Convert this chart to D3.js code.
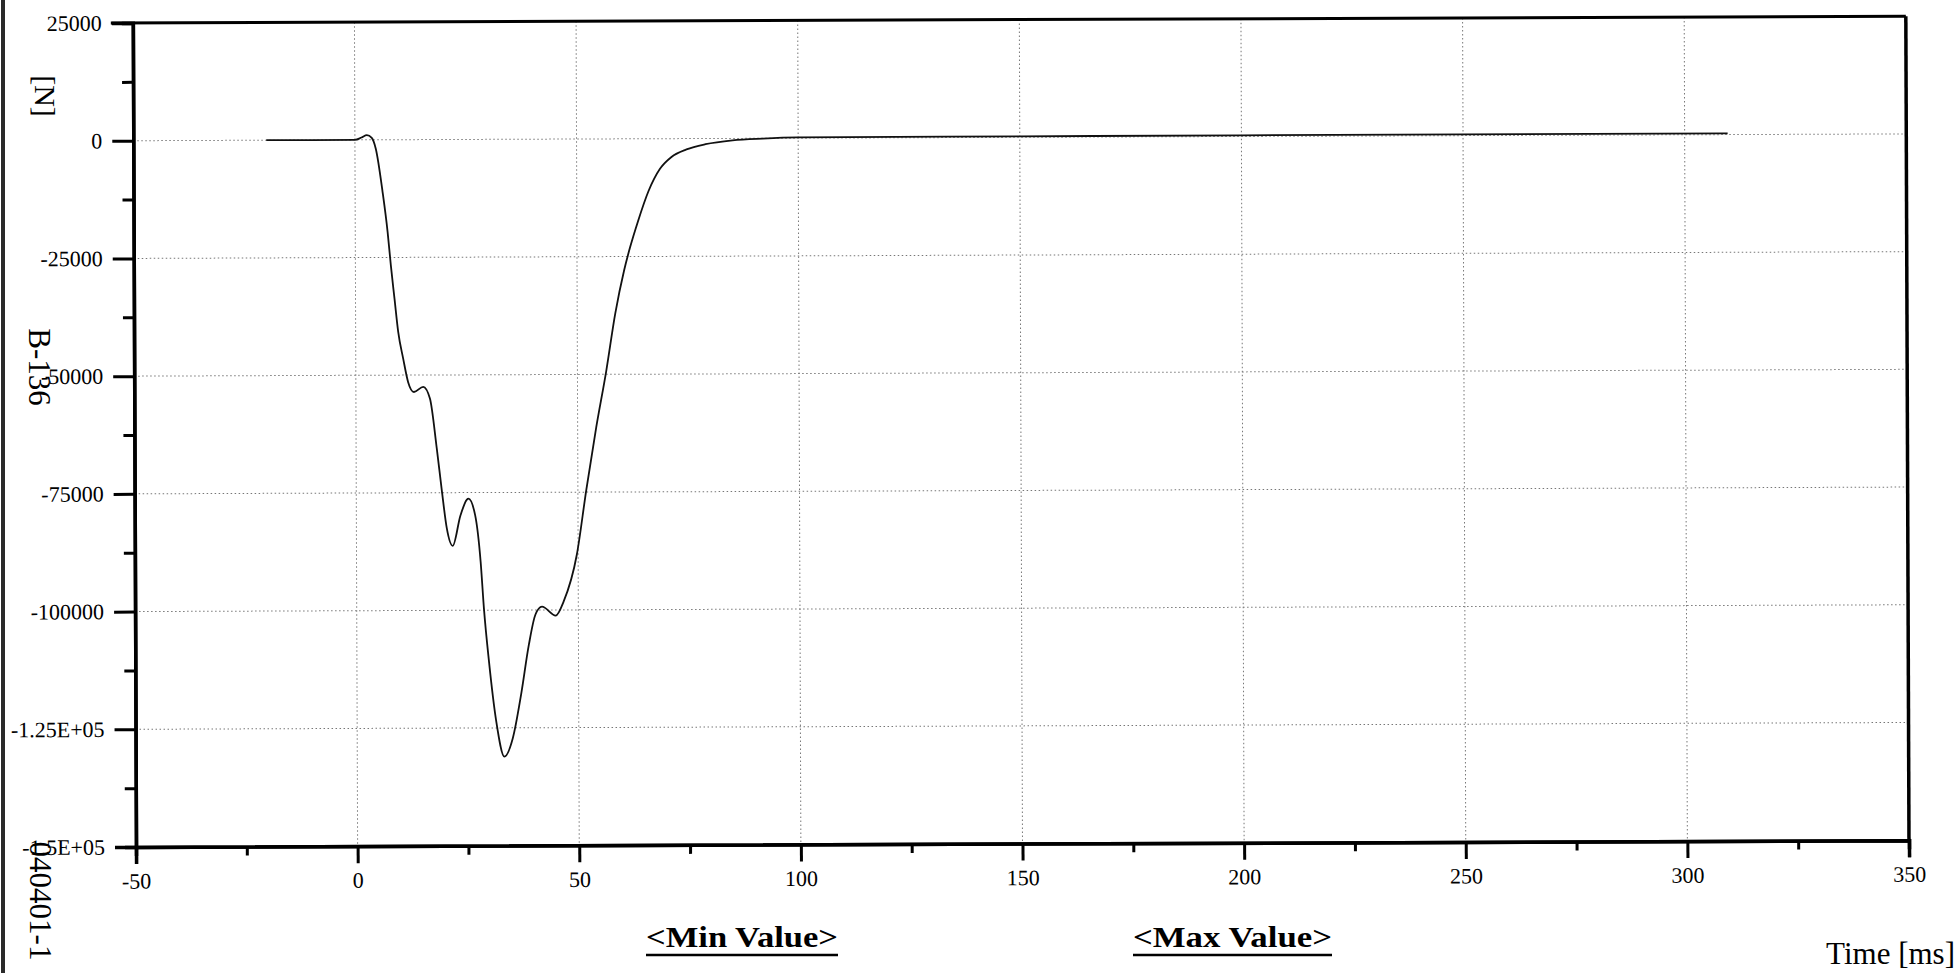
<!DOCTYPE html>
<html>
<head>
<meta charset="utf-8">
<script src="https://cdn.jsdelivr.net/npm/d3@7"></script>
<style>
  html, body { margin: 0; padding: 0; background: #fff; }
  svg { display: block; }
  text { font-family: "Liberation Serif", "Times New Roman", serif; fill: #000; }
</style>
</head>
<body>
<svg id="chart" width="1957" height="973"></svg>
<script>
// ---- data ----
const timeMs = [-20, -10, 0, 1.5, 2.7, 3.8, 4.7, 6.2, 7.3, 8.0, 8.8, 9.6, 10.7, 11.8, 13.1, 15.2, 16.7, 18.2, 19.3, 20.4, 21.7, 23.5, 25.3, 26.8, 28.0, 28.7, 29.8, 31.4, 33.2, 35.1, 37.0, 38.8, 40.3, 41.8, 44.9, 46.7, 49.7, 51.9, 54.2, 56.5, 58.6, 60.6, 62.0, 63.8, 66.2, 68.8, 71.4, 74.8, 79.1, 85.2, 92, 100, 150, 200, 250, 309.7];
const forceN = [0, 0, 0, 500, 1000, 400, -1900, -11100, -19600, -26700, -33800, -40800, -46500, -51500, -53600, -52500, -55000, -65600, -74500, -82600, -86300, -79800, -76300, -79800, -89700, -99600, -110900, -123700, -131100, -127200, -118000, -107400, -101000, -99300, -101200, -98200, -88300, -74500, -61200, -49300, -37000, -28000, -23000, -17500, -11100, -6400, -3900, -2300, -1200, -400, -50, 150, 200, 250, 250, 250];

const xTickValues = [-50, 0, 50, 100, 150, 200, 250, 300, 350];
const xTickLabels = ["-50", "0", "50", "100", "150", "200", "250", "300", "350"];
const xMinorValues = [-25, 25, 75, 125, 175, 225, 275, 325];
const yTickValues = [25000, 0, -25000, -50000, -75000, -100000, -125000, -150000];
const yTickLabels = ["25000", "0", "-25000", "-50000", "-75000", "-100000", "-1.25E+05", "-1.5E+05"];
const yMinorValues = [12500, -12500, -37500, -62500, -87500, -112500, -137500];
const xGridValues = [0, 50, 100, 150, 200, 250, 300];
const yGridValues = [0, -25000, -50000, -75000, -100000, -125000];

const xTitle = "Time [ms]";
const yUnit = "[N]";
const sideLabel = "B-136";
const idLabel = "040401-1";
const minLabel = "<Min Value>";
const maxLabel = "<Max Value>";

// ---- layout ----
const L = 136, R = 1909, T = 23, B = 847;
const svg = d3.select("#chart");

// scanned page edge
svg.append("rect").attr("x", 1).attr("y", 0).attr("width", 4).attr("height", 973).attr("fill", "#2a2a2a");

const g = svg.append("g").attr("transform", `rotate(-0.22, ${L}, ${B})`);

const x = d3.scaleLinear().domain([-50, 350]).range([L, R]);
const y = d3.scaleLinear().domain([-150000, 25000]).range([B, T]);

// grid
const grid = g.append("g");
grid.selectAll("line.v").data(xGridValues).join("line")
  .attr("x1", d => x(d)).attr("x2", d => x(d)).attr("y1", T).attr("y2", B)
  .attr("stroke", "#777").attr("stroke-width", 1).attr("stroke-dasharray", "1.5,2.5");
grid.selectAll("line.h").data(yGridValues).join("line")
  .attr("x1", L).attr("x2", R).attr("y1", d => y(d)).attr("y2", d => y(d))
  .attr("stroke", "#777").attr("stroke-width", 1).attr("stroke-dasharray", "1.5,2.5");

// frame top/right
g.append("line").attr("x1", L - 22).attr("x2", R).attr("y1", T).attr("y2", T).attr("stroke", "#000").attr("stroke-width", 3);
g.append("line").attr("x1", R).attr("x2", R).attr("y1", T).attr("y2", B).attr("stroke", "#000").attr("stroke-width", 3.5);

// curve
const pts = timeMs.map((t, i) => [t, forceN[i]]);
g.append("path").datum(pts)
  .attr("fill", "none").attr("stroke", "#111").attr("stroke-width", 1.8)
  .attr("d", d3.line().x(d => x(d[0])).y(d => y(d[1])).curve(d3.curveMonotoneX));

// axes
const yAxis = g.append("g").attr("transform", `translate(${L},0)`)
  .call(d3.axisLeft(y).tickValues(yTickValues).tickFormat((d, i) => yTickLabels[i]).tickSize(21).tickPadding(10));
const yMinor = g.append("g").attr("transform", `translate(${L},0)`)
  .call(d3.axisLeft(y).tickValues(yMinorValues).tickFormat("").tickSize(11));
const xAxis = g.append("g").attr("transform", `translate(0,${B})`)
  .call(d3.axisBottom(x).tickValues(xTickValues).tickFormat((d, i) => xTickLabels[i]).tickSize(17).tickPadding(9));
const xMinor = g.append("g").attr("transform", `translate(0,${B})`)
  .call(d3.axisBottom(x).tickValues(xMinorValues).tickFormat("").tickSize(9));

[yAxis, yMinor, xAxis, xMinor].forEach(a => {
  a.select(".domain").attr("stroke", "#000").attr("stroke-width", 3.5);
  a.selectAll(".tick line").attr("stroke", "#000").attr("stroke-width", 3);
  a.selectAll(".tick text").attr("font-size", 22).attr("font-family", '"Liberation Serif", "Times New Roman", serif').attr("fill", "#000");
});

// rotated side labels
function vText(txt, cx, cy, size) {
  svg.append("text").attr("x", cx).attr("y", cy)
    .attr("text-anchor", "middle").attr("dominant-baseline", "central")
    .attr("font-size", size)
    .attr("transform", `rotate(90, ${cx}, ${cy})`).text(txt);
}
vText(yUnit, 45, 96, 30);
vText(sideLabel, 39, 367, 31);
vText(idLabel, 40, 901, 31);

// x title
svg.append("text").attr("x", 1955).attr("y", 964).attr("text-anchor", "end").attr("font-size", 31).text(xTitle);

// min / max headings
function heading(txt, x0, w) {
  svg.append("text").attr("x", x0).attr("y", 947).attr("font-size", 30).attr("font-weight", "bold")
    .attr("textLength", w).attr("lengthAdjust", "spacingAndGlyphs").text(txt);
  svg.append("line").attr("x1", x0).attr("x2", x0 + w).attr("y1", 955).attr("y2", 955)
    .attr("stroke", "#000").attr("stroke-width", 2.5);
}
heading(minLabel, 646, 192);
heading(maxLabel, 1133, 199);
</script>
</body>
</html>
